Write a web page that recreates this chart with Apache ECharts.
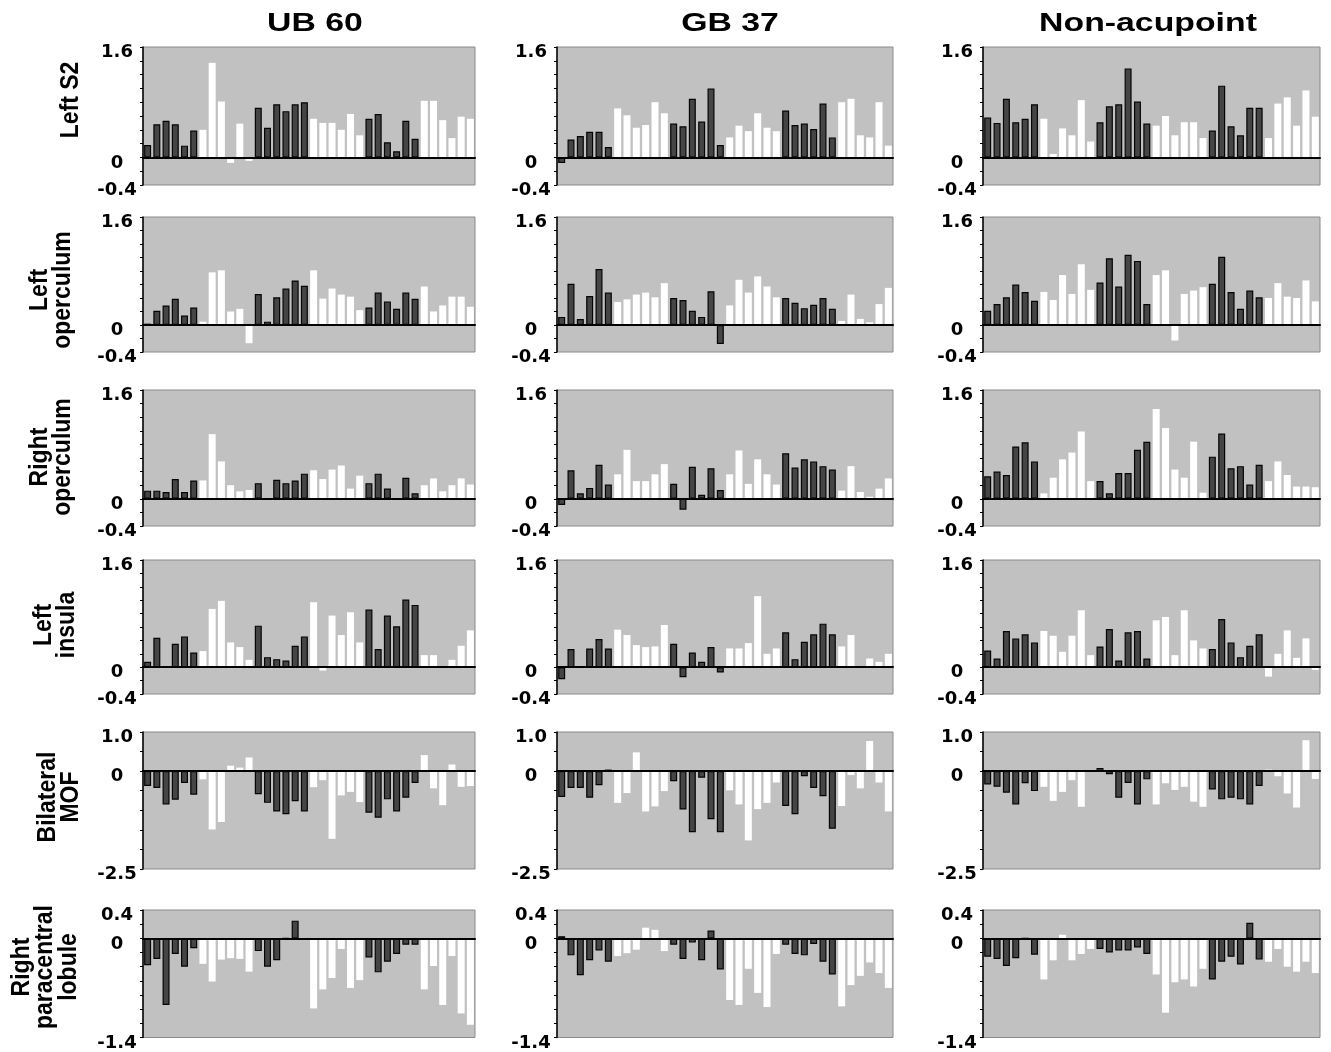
<!DOCTYPE html>
<html><head><meta charset="utf-8">
<script src="https://cdn.jsdelivr.net/npm/echarts@6/dist/echarts.min.js"></script>
<style>html,body{margin:0;padding:0;background:#fff}#c{width:1331px;height:1052px}</style>
</head><body><div id="c"></div>
<script>
// ---------- categories & labels ----------
const categories = ['1','2','3','4','5','6','7','8','9','10','11','12','13','14','15','16','17','18',
  '19','20','21','22','23','24','25','26','27','28','29','30','31','32','33','34','35','36'];
const groupShades = ['dark','white','dark','white','dark','white']; // each group = 6 bars
const columnTitles = ['UB 60','GB 37','Non-acupoint'];
const rowLabels = ['Left S2','Left\noperculum','Right\noperculum','Left\ninsula','Bilateral\nMOF','Right\nparacentral\nlobule'];
const rowAxisMin = [-0.4,-0.4,-0.4,-0.4,-2.5,-1.4];
const rowAxisMax = [1.6,1.6,1.6,1.6,1.0,0.4];
const rowAxisInterval = [0.2,0.2,0.2,0.2,0.5,0.2];
const rowTickLabels = [['1.6','0','-0.4'],['1.6','0','-0.4'],['1.6','0','-0.4'],['1.6','0','-0.4'],['1.0','0','-2.5'],['0.4','0','-1.4']];

// ---------- UB 60 ----------
const ub60_leftS2 = [0.18,0.48,0.53,0.48,0.17,0.39, 0.40,1.37,0.81,-0.08,0.49,-0.05, 0.72,0.43,0.77,0.67,0.77,0.80, 0.56,0.50,0.50,0.40,0.63,0.32, 0.56,0.63,0.22,0.09,0.53,0.27, 0.82,0.82,0.54,0.28,0.59,0.56];
const ub60_leftOperculum = [0.02,0.21,0.29,0.39,0.14,0.26, 0.05,0.78,0.81,0.20,0.24,-0.27, 0.46,0.05,0.41,0.54,0.66,0.58, 0.81,0.39,0.54,0.45,0.42,0.22, 0.26,0.48,0.35,0.24,0.48,0.39, 0.57,0.20,0.29,0.42,0.42,0.27];
const ub60_rightOperculum = [0.12,0.12,0.10,0.29,0.10,0.27, 0.27,0.95,0.55,0.20,0.11,0.13, 0.23,0,0.28,0.23,0.27,0.37, 0.42,0.29,0.43,0.49,0.15,0.34, 0.23,0.37,0.15,0,0.31,0.08, 0.20,0.30,0.11,0.20,0.30,0.21];
const ub60_leftInsula = [0.08,0.44,0,0.35,0.46,0.22, 0.24,0.87,0.99,0.37,0.30,0.11, 0.62,0.15,0.12,0.10,0.32,0.46, 0.97,-0.05,0.77,0.48,0.82,0.37, 0.86,0.27,0.77,0.61,1.01,0.93, 0.18,0.18,0,0.11,0.32,0.55];
const ub60_bilateralMOF = [-0.38,-0.43,-0.85,-0.73,-0.30,-0.60, -0.21,-1.49,-1.30,0.14,0.09,0.35, -0.59,-0.81,-1.03,-1.10,-0.77,-1.03, -0.41,-0.23,-1.73,-0.62,-0.53,-0.79, -1.06,-1.19,-0.72,-1.03,-0.68,-0.30, 0.41,-0.44,-0.87,0.17,-0.40,-0.38];
const ub60_rightParacentral = [-0.38,-0.29,-0.94,-0.22,-0.40,-0.14, -0.36,-0.61,-0.30,-0.28,-0.29,-0.47, -0.18,-0.40,-0.31,0,0.25,-0.02, -0.99,-0.72,-0.56,-0.15,-0.70,-0.59, -0.27,-0.48,-0.33,-0.22,-0.09,-0.09, -0.72,-0.39,-0.94,-0.25,-1.06,-1.22];

// ---------- GB 37 ----------
const gb37_leftS2 = [-0.08,0.26,0.31,0.37,0.37,0.15, 0.71,0.61,0.43,0.47,0.80,0.64, 0.49,0.45,0.85,0.52,1.00,0.18, 0.29,0.46,0.38,0.64,0.43,0.38, 0.68,0.47,0.49,0.41,0.78,0.29, 0.80,0.85,0.32,0.29,0.80,0.17];
const gb37_leftOperculum = [0.12,0.61,0.09,0.43,0.83,0.48, 0.34,0.38,0.45,0.48,0.41,0.62, 0.40,0.37,0.21,0.12,0.50,-0.28, 0.29,0.67,0.48,0.72,0.57,0.41, 0.40,0.33,0.25,0.30,0.40,0.24, 0.06,0.45,0.09,0.04,0.31,0.55];
const gb37_rightOperculum = [-0.09,0.42,0.08,0.16,0.50,0.21, 0.36,0.72,0.26,0.26,0.36,0.51, 0.22,-0.16,0.47,0.06,0.45,0.13, 0.36,0.71,0.22,0.58,0.36,0.21, 0.67,0.46,0.58,0.55,0.48,0.43, 0.12,0.48,0.10,0.03,0.15,0.30];
const gb37_leftInsula = [-0.18,0.27,0,0.28,0.42,0.28, 0.56,0.48,0.33,0.30,0.31,0.63, 0.35,-0.15,0.22,0.08,0.30,-0.08, 0.28,0.28,0.36,1.06,0.20,0.28, 0.52,0.12,0.38,0.49,0.65,0.49, 0.31,0.48,0,0.13,0.08,0.20];
const gb37_bilateralMOF = [-0.66,-0.43,-0.43,-0.68,-0.36,0.04, -0.81,-0.56,0.48,-1.03,-0.90,-0.51, -0.26,-0.98,-1.56,-0.17,-1.23,-1.56, -0.49,-0.85,-1.77,-0.97,-0.81,-0.29, -0.89,-1.10,-0.13,-0.43,-0.64,-1.47, -0.89,-0.10,-0.44,0.77,-0.29,-1.03];
const gb37_rightParacentral = [0.03,-0.24,-0.52,-0.31,-0.17,-0.33, -0.25,-0.21,-0.16,0.15,0.12,-0.18, -0.09,-0.29,-0.06,-0.31,0.11,-0.44, -0.87,-0.94,-0.43,-0.77,-0.97,-0.22, -0.09,-0.22,-0.24,-0.08,-0.33,-0.51, -0.96,-0.66,-0.53,-0.34,-0.49,-0.70];

// ---------- Non-acupoint ----------
const non_leftS2 = [0.58,0.50,0.85,0.51,0.56,0.77, 0.56,0.05,0.42,0.32,0.83,0.23, 0.51,0.74,0.77,1.29,0.81,0.49, 0.46,0.60,0.32,0.51,0.51,0.28, 0.39,1.04,0.45,0.32,0.72,0.72, 0.28,0.78,0.87,0.46,0.97,0.59];
const non_leftOperculum = [0.21,0.31,0.41,0.60,0.49,0.36, 0.49,0.37,0.74,0.46,0.90,0.52, 0.63,0.99,0.57,1.04,0.95,0.31, 0.74,0.81,-0.23,0.46,0.51,0.56, 0.61,1.01,0.49,0.24,0.51,0.41, 0.40,0.62,0.42,0.40,0.66,0.35];
const non_rightOperculum = [0.33,0.40,0.35,0.77,0.83,0.55, 0.08,0.31,0.58,0.68,0.99,0.26, 0.26,0.08,0.38,0.38,0.72,0.84, 1.32,1.04,0.43,0.31,0.84,0.09, 0.62,0.96,0.45,0.48,0.21,0.50, 0.26,0.55,0.35,0.18,0.18,0.17];
const non_leftInsula = [0.25,0.13,0.54,0.43,0.49,0.37, 0.54,0.47,0.23,0.47,0.85,0.18, 0.31,0.57,0.10,0.52,0.54,0.13, 0.70,0.75,0.18,0.85,0.40,0.28, 0.27,0.72,0.37,0.15,0.32,0.49, -0.14,0.20,0.55,0.14,0.43,-0.04];
const non_bilateralMOF = [-0.34,-0.40,-0.55,-0.85,-0.31,-0.51, -0.40,-0.76,-0.53,-0.23,-0.91,0, 0.08,-0.08,-0.68,-0.30,-0.85,-0.21, -0.85,-0.31,-0.48,-0.40,-0.78,-0.91, -0.47,-0.72,-0.68,-0.72,-0.85,-0.38, 0.04,-0.13,-0.57,-0.93,0.79,-0.20];
const non_rightParacentral = [-0.26,-0.29,-0.39,-0.28,0,-0.23, -0.58,-0.31,0.05,-0.31,-0.22,-0.15, -0.15,-0.20,-0.17,-0.17,-0.13,-0.22, -0.51,-1.05,-0.62,-0.58,-0.68,-0.43, -0.58,-0.33,-0.26,-0.37,0.22,-0.30, -0.33,-0.15,-0.40,-0.47,-0.33,-0.49];

const panelData = [
  [ub60_leftS2, gb37_leftS2, non_leftS2],
  [ub60_leftOperculum, gb37_leftOperculum, non_leftOperculum],
  [ub60_rightOperculum, gb37_rightOperculum, non_rightOperculum],
  [ub60_leftInsula, gb37_leftInsula, non_leftInsula],
  [ub60_bilateralMOF, gb37_bilateralMOF, non_bilateralMOF],
  [ub60_rightParacentral, gb37_rightParacentral, non_rightParacentral]
];

// ---------- layout ----------
const colLeft = [143, 557, 983];
const colWidth = [332, 336, 337];
const rowTop = [47, 217, 390, 560, 732, 910];
const rowHeight = [138, 135, 136, 134, 137, 131];
const titleX = [315, 730, 1148];
const rowLabelX = [71, 51, 51, 55, 59, 45];
const rowLabelY = [100, 290, 457, 625, 797, 967];

const grids = [], xAxes = [], yAxes = [], series = [];
let k = 0;
for (let r = 0; r < 6; r++) {
  for (let c = 0; c < 3; c++) {
    grids.push({left: colLeft[c], top: rowTop[r], width: colWidth[c], height: rowHeight[r],
      show: true, backgroundColor: '#c1c1c1', borderColor: '#8a8a8a', borderWidth: 1, containLabel: false});
    xAxes.push({type: 'category', gridIndex: k, data: categories, boundaryGap: true, z: 5,
      axisLine: {show: true, onZero: true, lineStyle: {color: '#000', width: 2}},
      axisTick: {show: false}, axisLabel: {show: false}, splitLine: {show: false}});
    const mn = rowAxisMin[r], mx = rowAxisMax[r], labs = rowTickLabels[r];
    yAxes.push({type: 'value', gridIndex: k, min: mn, max: mx, interval: rowAxisInterval[r], z: 6,
      axisLine: {show: true, lineStyle: {color: '#000', width: 1.5}},
      axisTick: {show: true, length: 3, lineStyle: {color: '#000', width: 1}},
      splitLine: {show: false},
      axisLabel: {show: true, margin: 26, align: 'center', verticalAlign: 'top', lineHeight: 11,
        color: '#000', fontSize: 18, fontWeight: 'bold',
        fontFamily: '"DejaVu Sans", sans-serif', showMinLabel: true, showMaxLabel: true,
        formatter: function (v) {
          if (Math.abs(v - mx) < 1e-6) return labs[0];
          if (Math.abs(v) < 1e-6) return labs[1];
          if (Math.abs(v - mn) < 1e-6) return labs[2];
          return '';
        }}});
    const vals = panelData[r][c];
    series.push({type: 'bar', xAxisIndex: k, yAxisIndex: k, barWidth: 7, silent: true, animation: false,
      data: vals.map(function (v, i) {
        const dark = groupShades[Math.floor(i / 6)] === 'dark';
        return {value: v, itemStyle: dark
          ? {color: '#454545', borderColor: '#050505', borderWidth: 1.2}
          : {color: '#ffffff', borderWidth: 0}};
      })});
    k++;
  }
}

const graphics = [];
for (let c = 0; c < 3; c++) {
  graphics.push({type: 'text', x: titleX[c], y: 24, scaleX: 1.3, scaleY: 1,
    style: {text: columnTitles[c], font: 'bold 26px "Liberation Sans", Arial, sans-serif', fill: '#000',
      textAlign: 'center', textVerticalAlign: 'middle', align: 'center', verticalAlign: 'middle'}});
}
for (let r = 0; r < 6; r++) {
  graphics.push({type: 'text', x: rowLabelX[r], y: rowLabelY[r], rotation: Math.PI / 2, scaleX: 1, scaleY: 1.15,
    style: {text: rowLabels[r], font: 'bold 23px "Liberation Sans", Arial, sans-serif', fill: '#000', lineHeight: 20.5,
      textAlign: 'center', textVerticalAlign: 'middle', align: 'center', verticalAlign: 'middle'}});
}

const chart = echarts.init(document.getElementById('c'), null, {renderer: 'canvas'});
chart.setOption({
  backgroundColor: '#ffffff',
  animation: false,
  grid: grids, xAxis: xAxes, yAxis: yAxes, series: series,
  graphic: graphics
});
</script></body></html>
